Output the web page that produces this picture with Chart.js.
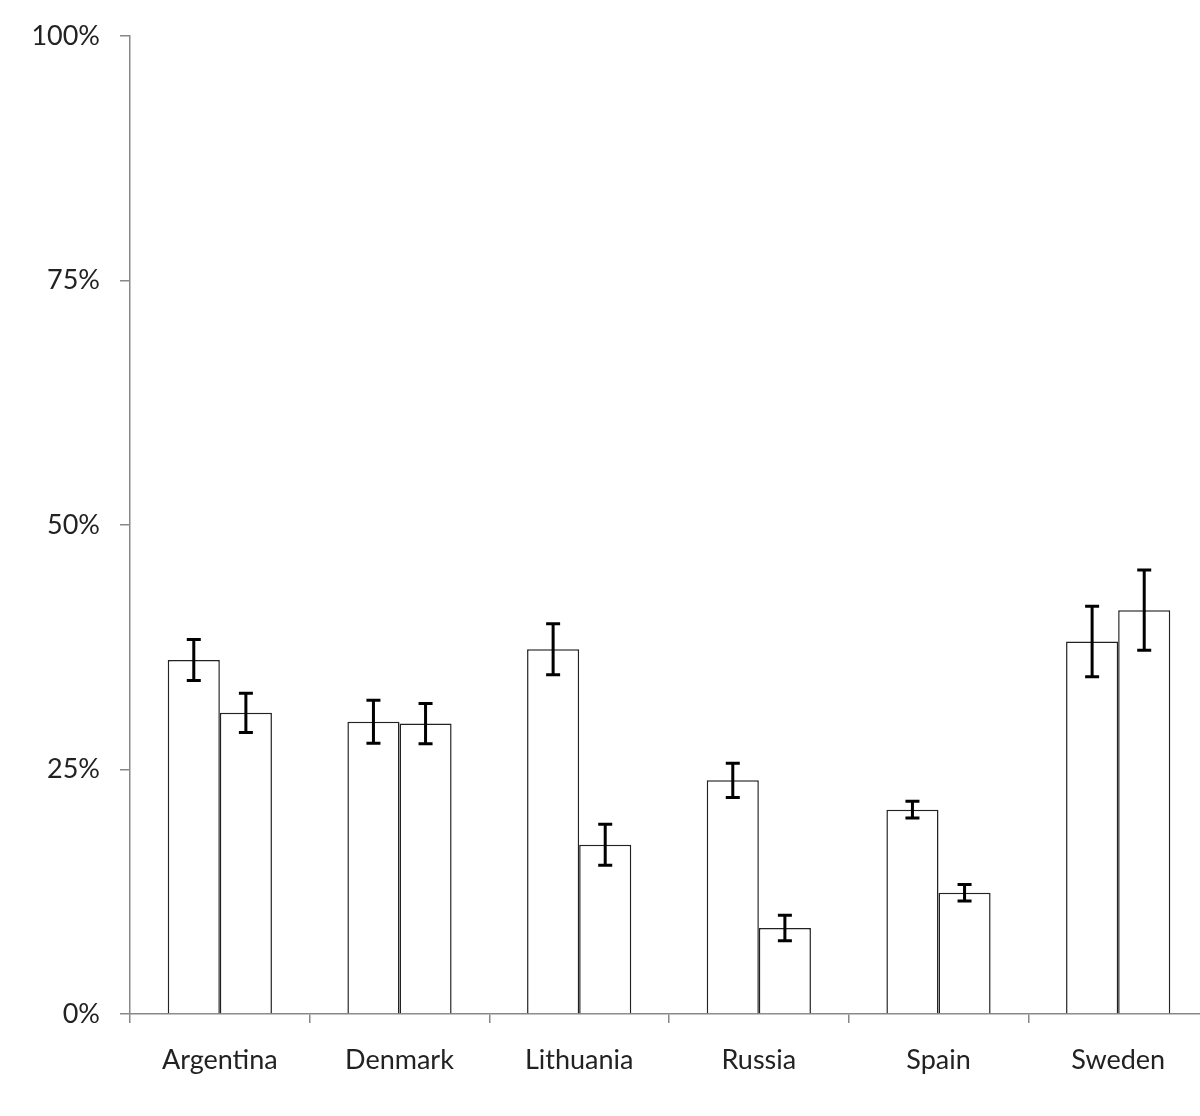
<!DOCTYPE html>
<html>
<head>
<meta charset="utf-8">
<script src="https://cdn.jsdelivr.net/npm/chart.js@4.4.1/dist/chart.umd.min.js"></script>
<style>
  html,body{margin:0;padding:0;background:#fff;overflow:hidden;}
  #wrap{width:1208px;height:1116px;}
</style>
</head>
<body>
<div id="wrap"><canvas id="myChart"></canvas></div>
<script>
// datos
const paises   = ['Argentina','Denmark','Lithuania','Russia','Spain','Sweden']
const serie1   = [36.2, 29.9, 37.3, 23.9, 20.9, 38.1]
const error1   = [2.1, 2.2, 2.6, 1.75, 0.85, 3.6]
const serie2   = [30.8, 29.7, 17.3, 8.8, 12.4, 41.3]
const error2   = [2.0, 2.05, 2.1, 1.3, 0.85, 4.1]
const ticksY   = [0, 25, 50, 75, 100]

const errores  = [error1, error2]

// barras de error dibujadas con las escalas del grafico
const barrasError = {
  id:'barrasError',
  afterDatasetsDraw(chart){
    const c = chart.ctx
    const y = chart.scales.y
    c.save()
    c.strokeStyle = '#000'
    c.lineWidth = 3
    chart.data.datasets.forEach((ds,d)=>{
      const meta = chart.getDatasetMeta(d)
      meta.data.forEach((bar,i)=>{
        const v = ds.data[i], e = errores[d][i]
        const yTop = y.getPixelForValue(v+e)
        const yBot = y.getPixelForValue(v-e)
        const x = bar.x
        c.beginPath()
        c.moveTo(x,yTop); c.lineTo(x,yBot)
        c.moveTo(x-7,yTop); c.lineTo(x+7,yTop)
        c.moveTo(x-7,yBot); c.lineTo(x+7,yBot)
        c.stroke()
      })
    })
    c.restore()
  }
}

const fuente = {family:'Lato', size:27}
const ctx = document.getElementById('myChart')
const myChart = new Chart(ctx,{
  type:'bar',
  data:{
    labels:paises,
    datasets:[
      {label:'serie 1',data:serie1,backgroundColor:'#fff',borderColor:'#222',borderWidth:1.5},
      {label:'serie 2',data:serie2,backgroundColor:'#fff',borderColor:'#222',borderWidth:1.5}
    ]
  },
  options:{
    responsive:true,
    maintainAspectRatio:false,
    animation:false,
    layout:{padding:{top:31,right:0,left:0,bottom:0}},
    plugins:{legend:{display:false},tooltip:{enabled:false}},
    datasets:{bar:{categoryPercentage:0.58,barPercentage:1.0}},
    scales:{
      x:{
        offset:true,
        grid:{display:true,offset:true,drawOnChartArea:false,color:'#888',tickLength:9,lineWidth:1.5},
        border:{color:'#888',width:1.5},
        ticks:{color:'#222',font:fuente,padding:21,maxRotation:0},
        afterFit(s){s.height=102}
      },
      y:{
        min:0,max:100,
        afterBuildTicks(s){s.ticks=ticksY.map(v=>({value:v}))},
        grid:{display:true,drawOnChartArea:false,color:'#888',tickLength:10,lineWidth:1.5},
        border:{color:'#888',width:1.5},
        ticks:{color:'#222',font:fuente,padding:20,callback:v=>v+'%'},
        afterFit(s){s.width=130}
      }
    }
  },
  plugins:[barrasError]
})
</script>
</body>
</html>
